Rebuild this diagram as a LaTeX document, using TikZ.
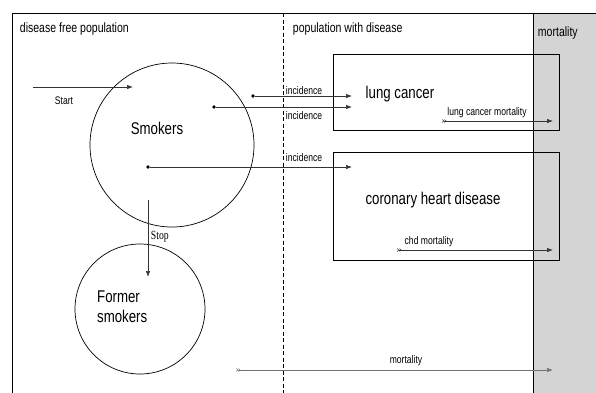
\documentclass[tikz,border=0pt]{standalone}
\usepackage{fontspec}
\setmainfont{Liberation Sans}
\newfontfamily\stopfont{Liberation Serif}
\usetikzlibrary{arrows.meta}
\tikzset{
  flow/.style={-{Latex[length=6pt,width=4.4pt]}, draw=black!80, line width=0.6pt},
  outflow/.style={{Straight Barb[reversed,length=1.5pt,width=3pt]Straight Barb[reversed,length=1.5pt,width=3pt]}-{Latex[length=6pt,width=4.4pt]}, line width=0.6pt},
  cond/.style={xscale=0.78, transform shape},
  lbl/.style={cond, font=\fontsize{11}{13}\selectfont, inner sep=1pt},
  head/.style={cond, font=\fontsize{13.5}{16}\selectfont, inner sep=1pt},
  big/.style={cond, font=\fontsize{17}{20}\selectfont, inner sep=0pt},
  srcdot/.style={circle, fill=black, inner sep=0pt, minimum size=3.6pt},
  state/.style={circle, draw, line width=0.7pt, inner sep=0pt},
  stage/.style={draw, line width=0.8pt, inner sep=0pt}
}
\begin{document}
\begin{tikzpicture}[x=1pt,y=-1pt]
\useasboundingbox (0,0) rectangle (596,392);
\clip (0,0) rectangle (596,392);
\coordinate (Start) at (33,87);
\coordinate (St) at (133,87);
\coordinate (Dot1) at (253,96);
\coordinate (Dot2) at (214,107);
\coordinate (Dot3) at (148,167);
\coordinate (In1) at (352,96);
\coordinate (In2) at (352,107);
\coordinate (In3) at (352,167);
\coordinate (Sp) at (148,200);
\coordinate (Se) at (148,277);
\coordinate (Lm) at (442,121);
\coordinate (Lme) at (553,121);
\coordinate (Cm) at (397,250);
\coordinate (Cme) at (553,250);
\coordinate (M) at (236,370);
\coordinate (Me) at (553,370);

% regions
\fill[black!17] (533,13) rectangle (600,400);
\draw[line width=0.8pt] (600,13) -- (12,13) -- (12,400);
\draw[line width=0.8pt] (533,13) -- (533,400);
\draw[dashed, dash pattern=on 4pt off 2.5pt, line width=0.6pt] (283,13) -- (283,400);
\node[head, anchor=west] (free) at (19,29) {disease free population};
\node[head, anchor=west] (ill) at (292,29) {population with disease};
\node[head, anchor=west] (dead) at (537,33) {mortality};

% states
\node[state, minimum size=164pt] (smokers) at (172,145) {};
\node[big] at (157,128) {Smokers};
\node[state, minimum size=130pt] (former) at (140,309) {};
\node[big, align=left, anchor=west] at (97,307) {Former\\smokers};
\node[stage, minimum width=226pt, minimum height=76pt] (lung) at (446,92) {};
\node[big] at (400,94) {lung cancer};
\node[stage, minimum width=226pt, minimum height=108pt] (chd) at (446,206) {};
\node[big] at (433,200) {coronary heart disease};

% flows
\draw[flow] (Start) -- (St);
\node[lbl] at (64,101) {Start};
\node[srcdot] (d1) at (Dot1) {};
\node[srcdot] (d2) at (Dot2) {};
\node[srcdot] (d3) at (Dot3) {};
\draw[flow] (d1) -- (In1);
\draw[flow] (d2) -- (In2);
\draw[flow] (d3) -- (In3);
\node[lbl, anchor=west] at (285,91) {incidence};
\node[lbl, anchor=west] at (285,116) {incidence};
\node[lbl, anchor=west] at (285,158) {incidence};
\draw[flow] (Sp) -- (Se);
\node[cond, anchor=west, inner sep=1pt, font=\stopfont\fontsize{12.5}{14}\selectfont] at (150,237) {Stop};
\draw[outflow, draw=black!80] (Lm) -- (Lme);
\node[lbl] at (487,113) {lung cancer mortality};
\draw[outflow, draw=black!80] (Cm) -- (Cme);
\node[lbl] at (429,242) {chd mortality};
\draw[outflow, draw=black!55] (M) -- (Me);
\node[lbl] at (406,361) {mortality};
\end{tikzpicture}
\end{document}
